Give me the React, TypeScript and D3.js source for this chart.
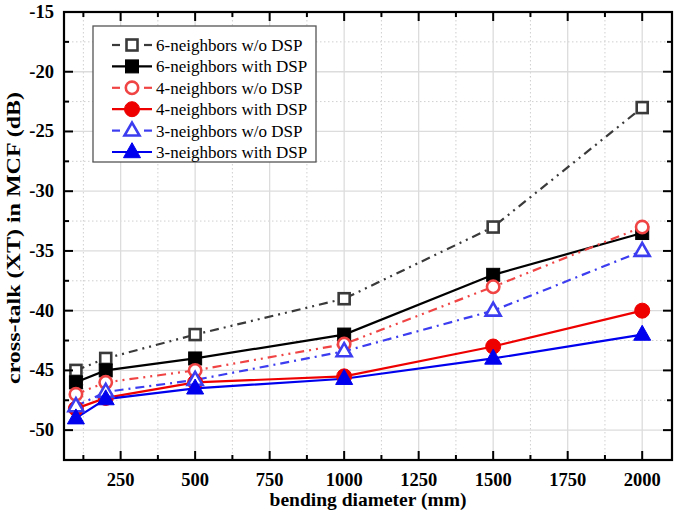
import React from "react";
import * as d3 from "d3";

const xValues = [100, 200, 500, 1000, 1500, 2000];
const s6wo = [-45, -44, -42, -39, -33, -23];
const s6w = [-46, -45, -44, -42, -37, -33.5];
const s4wo = [-47, -46, -45, -42.8, -38, -33];
const s4w = [-48.2, -47.3, -46, -45.5, -43, -40];
const s3wo = [-48, -46.8, -45.8, -43.4, -40, -35];
const s3w = [-49, -47.4, -46.5, -45.7, -44, -42];
const seriesNames = [
  "6-neighbors w/o DSP",
  "6-neighbors with DSP",
  "4-neighbors w/o DSP",
  "4-neighbors with DSP",
  "3-neighbors w/o DSP",
  "3-neighbors with DSP",
];
const xTicks = [250, 500, 750, 1000, 1250, 1500, 1750, 2000];
const yTicks = [-50, -45, -40, -35, -30, -25, -20, -15];

type Style = { color: string; marker: "square" | "circle" | "triangle"; filled: boolean; dash: string | null };
const styles: Style[] = [
  { color: "#3a3a3a", marker: "square", filled: false, dash: "9,5,2,5,2,5" },
  { color: "#000000", marker: "square", filled: true, dash: null },
  { color: "#f04444", marker: "circle", filled: false, dash: "9,5,2,5,2,5" },
  { color: "#ee0000", marker: "circle", filled: true, dash: null },
  { color: "#3c3cf0", marker: "triangle", filled: false, dash: "9,5,2,5" },
  { color: "#0000ee", marker: "triangle", filled: true, dash: null },
];
const data = [s6wo, s6w, s4wo, s4w, s3wo, s3w];

const L = 64, R = 672, T = 12, B = 460;
const x = d3.scaleLinear().domain([60, 2100]).range([L, R]);
const y = d3.scaleLinear().domain([-52.5, -15]).range([B, T]);

function Marker({ cx, cy, st }: { cx: number; cy: number; st: Style }) {
  const fill = st.filled ? st.color : "white";
  const sw = st.filled ? 1 : 2.6;
  if (st.marker === "square") {
    const s = st.filled ? 13 : 11;
    return <rect x={cx - s / 2} y={cy - s / 2} width={s} height={s} fill={fill} stroke={st.color} strokeWidth={sw} />;
  }
  if (st.marker === "circle") {
    return <circle cx={cx} cy={cy} r={st.filled ? 7.5 : 6.2} fill={fill} stroke={st.color} strokeWidth={sw} />;
  }
  const h = st.filled ? 15 : 13;
  const w = st.filled ? 17 : 15;
  const pts = [
    [cx, cy - h * 0.62],
    [cx + w / 2, cy + h * 0.38],
    [cx - w / 2, cy + h * 0.38],
  ];
  return <polygon points={pts.map((p) => p.join(",")).join(" ")} fill={fill} stroke={st.color} strokeWidth={sw} strokeLinejoin="miter" />;
}

export default function App() {
  const line = d3
    .line<number>()
    .x((_, i) => x(xValues[i]))
    .y((v) => y(v));
  const minorX = d3.range(125, 2100, 125).filter((v) => v % 250 !== 0);
  const minorY = d3.range(-52.5, -15, 2.5).filter((v) => v % 5 !== 0);
  const font = "'Liberation Serif', 'Times New Roman', serif";
  return (
    <svg width={675} height={516} style={{ position: "absolute", left: 0, top: 0, background: "white" }} fontFamily={font}>
      <rect width={675} height={516} fill="white" />
      {/* grid */}
      {minorX.map((v) => (
        <line key={"mx" + v} x1={x(v)} x2={x(v)} y1={T} y2={B} stroke="#cfcfcf" strokeWidth={1} strokeDasharray="1.5,2.5" />
      ))}
      {minorY.map((v) => (
        <line key={"my" + v} x1={L} x2={R} y1={y(v)} y2={y(v)} stroke="#cfcfcf" strokeWidth={1} strokeDasharray="1.5,2.5" />
      ))}
      {xTicks.map((v) => (
        <line key={"gx" + v} x1={x(v)} x2={x(v)} y1={T} y2={B} stroke="#dcdcdc" strokeWidth={1.3} />
      ))}
      {yTicks.map((v) => (
        <line key={"gy" + v} x1={L} x2={R} y1={y(v)} y2={y(v)} stroke="#dcdcdc" strokeWidth={1.3} />
      ))}
      {/* series lines */}
      {data.map((d, i) => (
        <path key={"l" + i} d={line(d) || ""} fill="none" stroke={styles[i].color} strokeWidth={2.2} strokeDasharray={styles[i].dash || undefined} />
      ))}
      {data.map((d, i) =>
        d.map((v, j) => <Marker key={"m" + i + "-" + j} cx={x(xValues[j])} cy={y(v)} st={styles[i]} />)
      )}
      {/* ticks */}
      {xTicks.map((v) => (
        <g key={"tx" + v}>
          <line x1={x(v)} x2={x(v)} y1={B} y2={B - 9} stroke="black" strokeWidth={2} />
          <line x1={x(v)} x2={x(v)} y1={T} y2={T + 9} stroke="black" strokeWidth={2} />
          <text x={x(v)} y={485.5} textAnchor="middle" fontSize={18.5} fontWeight="bold">{v}</text>
        </g>
      ))}
      {minorX.map((v) => (
        <g key={"tmx" + v}>
          <line x1={x(v)} x2={x(v)} y1={B} y2={B - 5} stroke="black" strokeWidth={2} />
          <line x1={x(v)} x2={x(v)} y1={T} y2={T + 5} stroke="black" strokeWidth={2} />
        </g>
      ))}
      {yTicks.map((v) => (
        <g key={"ty" + v}>
          <line x1={L} x2={L + 9} y1={y(v)} y2={y(v)} stroke="black" strokeWidth={2} />
          <line x1={R} x2={R - 9} y1={y(v)} y2={y(v)} stroke="black" strokeWidth={2} />
          <text x={54} y={y(v) + 6} textAnchor="end" fontSize={18.5} fontWeight="bold">{v}</text>
        </g>
      ))}
      {minorY.map((v) => (
        <g key={"tmy" + v}>
          <line x1={L} x2={L + 5} y1={y(v)} y2={y(v)} stroke="black" strokeWidth={2} />
          <line x1={R} x2={R - 5} y1={y(v)} y2={y(v)} stroke="black" strokeWidth={2} />
        </g>
      ))}
      <rect x={L} y={T} width={R - L} height={B - T} fill="none" stroke="black" strokeWidth={2.2} />
      {/* axis titles */}
      <text x={(L + R) / 2} y={506} textAnchor="middle" fontSize={19.5} fontWeight="bold">bending diameter (mm)</text>
      <text transform={`translate(20,${238}) rotate(-90)`} textAnchor="middle" fontSize={19} fontWeight="bold" textLength={292} lengthAdjust="spacingAndGlyphs">cross-talk (XT) in MCF (dB)</text>
      {/* legend */}
      <rect x={93} y={26} width={223} height={136} fill="white" stroke="#555" strokeWidth={1.3} />
      {seriesNames.map((n, i) => {
        const ly = 45 + i * 21.4;
        const st = styles[i];
        return (
          <g key={"lg" + i}>
            {st.dash ? (
              <g>
                <line x1={112} x2={120} y1={ly} y2={ly} stroke={st.color} strokeWidth={2.2} />
                <line x1={144} x2={152} y1={ly} y2={ly} stroke={st.color} strokeWidth={2.2} />
              </g>
            ) : (
              <line x1={112} x2={152} y1={ly} y2={ly} stroke={st.color} strokeWidth={2.2} />
            )}
            <Marker cx={132} cy={ly} st={st} />
            <text x={156} y={ly + 6} fontSize={17}>{n}</text>
          </g>
        );
      })}
    </svg>
  );
}
